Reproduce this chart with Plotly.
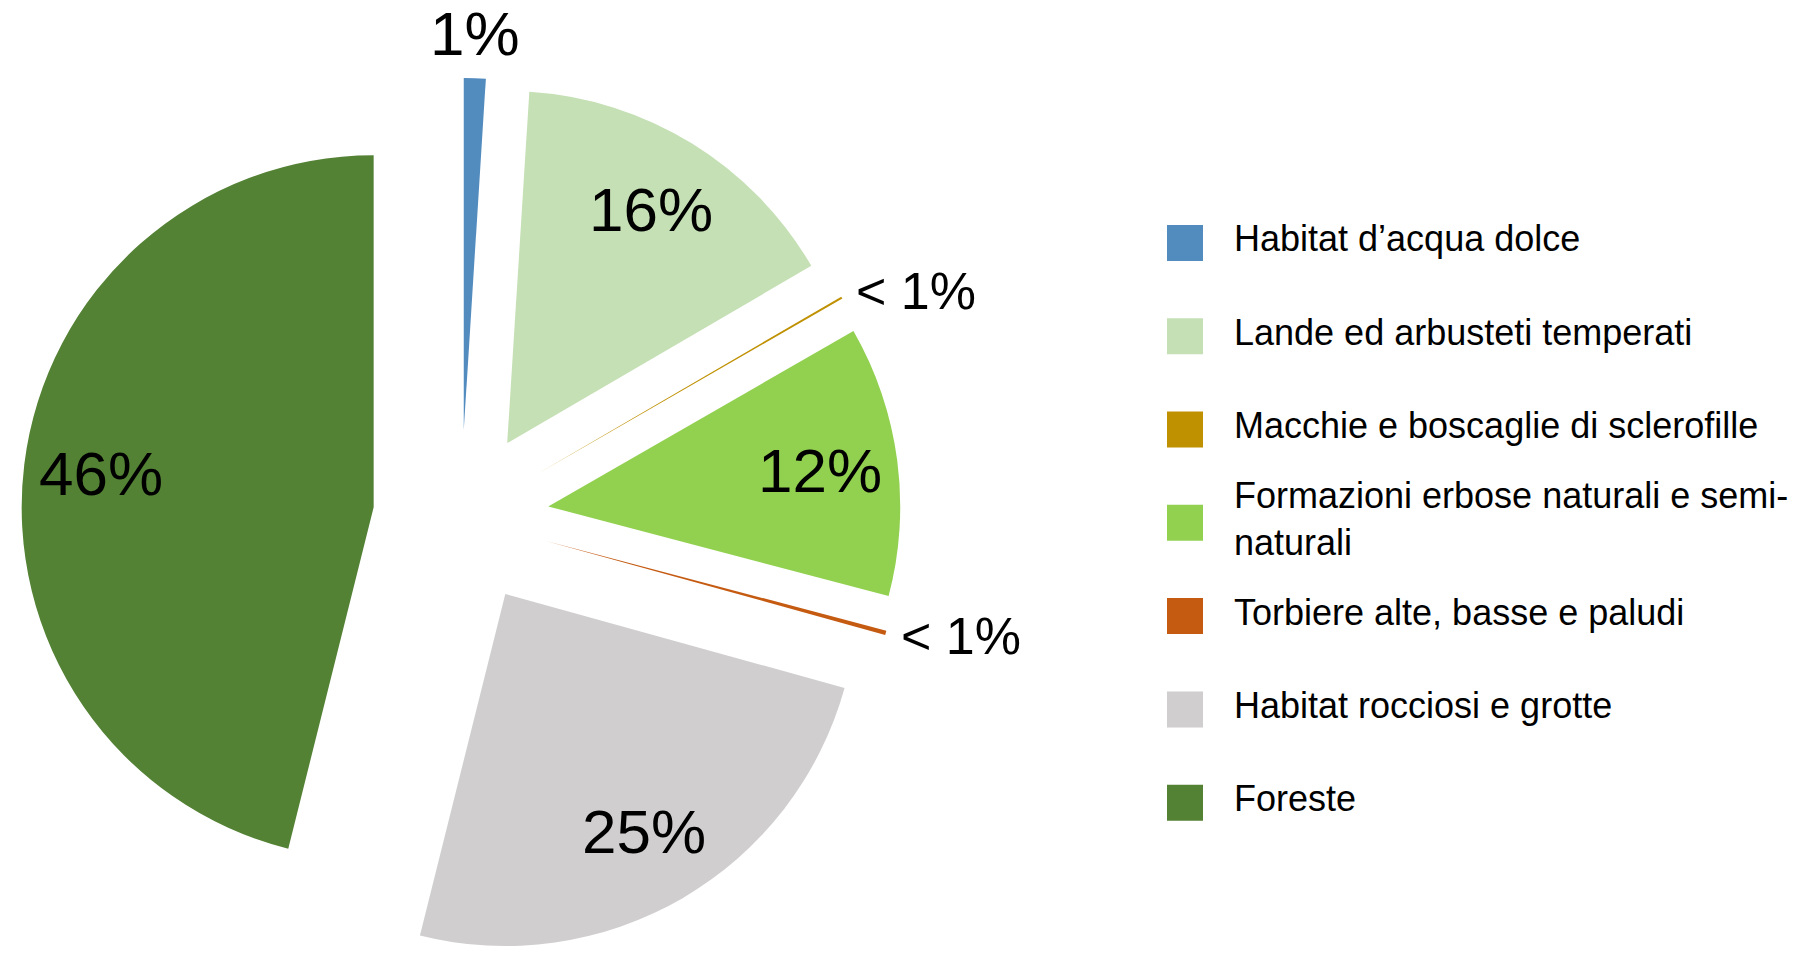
import math
import textwrap

import plotly.graph_objects as go

# Habitat categories, their share of the total (%) and slice colours
categories = [
    "Habitat d’acqua dolce",
    "Lande ed arbusteti temperati",
    "Macchie e boscaglie di sclerofille",
    "Formazioni erbose naturali e semi-naturali",
    "Torbiere alte, basse e paludi",
    "Habitat rocciosi e grotte",
    "Foreste",
]
shares = [1.0, 15.6, 0.1, 12.4, 0.2, 24.6, 46.1]
colors = ["#528BBE", "#C5E0B4", "#BF9000", "#92D050", "#C55A11", "#D0CECE", "#548235"]

W, H = 1806, 958
FONT = "Arial, 'Liberation Sans', sans-serif"

# Pie placement in pixels: centre, half-size of the domain square, pull
CX, CY = 461, 518
HALF = 440
PULL = 0.25
R = HALF / (1 + PULL)        # radius plotly gives the pie in this domain
D = PULL * R                 # distance each slice is pulled out


def paper(x, y):
    return x / W, 1 - y / H


fig = go.Figure(
    go.Pie(
        labels=categories,
        values=shares,
        marker=dict(colors=colors, line=dict(width=0)),
        sort=False,
        direction="clockwise",
        rotation=0,
        pull=PULL,
        textinfo="none",
        hoverinfo="label+percent",
        showlegend=False,
        domain=dict(
            x=[(CX - HALF) / W, (CX + HALF) / W],
            y=[max(0.0, (H - CY - HALF) / H), (H - CY + HALF) / H],
        ),
    )
)

annotations = []
shapes = []

# Percentage labels placed along each slice's mid angle
total = sum(shares)
cum = 0.0
for v in shares:
    pct = 100 * v / total
    label = "< 1%" if pct < 1 else f"{pct:.0f}%"
    mid = math.radians(360 * (cum + v / 2) / total)
    cum += v
    ux, uy = math.sin(mid), -math.cos(mid)
    if pct >= 5:
        dist = D + 0.78 * R
        px, py = CX + dist * ux, CY + dist * uy
        xa, ya, size = "center", "middle", 62
    elif abs(ux) > abs(uy):
        dist = D + R + 14
        px, py = CX + dist * ux, CY + dist * uy
        xa, ya, size = "left", "middle", 52
    else:
        dist = D + R + 8
        px, py = CX + dist * ux, CY + dist * uy
        xa, ya, size = "center", ("bottom" if uy < 0 else "top"), 62
    x, y = paper(px, py)
    annotations.append(dict(
        x=x, y=y, xref="paper", yref="paper", text=label, showarrow=False,
        xanchor=xa, yanchor=ya, font=dict(family=FONT, size=size, color="#000000"),
    ))

# Legend: coloured swatch plus wrapped category name per row
ROW0, ROW_STEP = 242.9, 93.3
SW_X0, SW_X1, SW_H = 1167, 1203, 36
TEXT_X = 1232
for i, (name, col) in enumerate(zip(categories, colors)):
    yc = ROW0 + ROW_STEP * i
    x0, y0 = paper(SW_X0, yc + SW_H / 2)
    x1, y1 = paper(SW_X1, yc - SW_H / 2)
    shapes.append(dict(
        type="rect", xref="paper", yref="paper", x0=x0, y0=y0, x1=x1, y1=y1,
        fillcolor=col, line=dict(width=0),
    ))
    tx, ty = paper(TEXT_X, yc - 4)
    annotations.append(dict(
        x=tx, y=ty, xref="paper", yref="paper",
        text="<br>".join(textwrap.wrap(name, width=34)),
        showarrow=False, xanchor="left", yanchor="middle", align="left",
        font=dict(family=FONT, size=36, color="#000000"),
    ))

fig.update_layout(
    width=W,
    height=H,
    margin=dict(l=0, r=0, t=0, b=0, pad=0),
    paper_bgcolor="#FFFFFF",
    plot_bgcolor="#FFFFFF",
    annotations=annotations,
    shapes=shapes,
    font=dict(family=FONT),
)

fig.write_html("out.html")
